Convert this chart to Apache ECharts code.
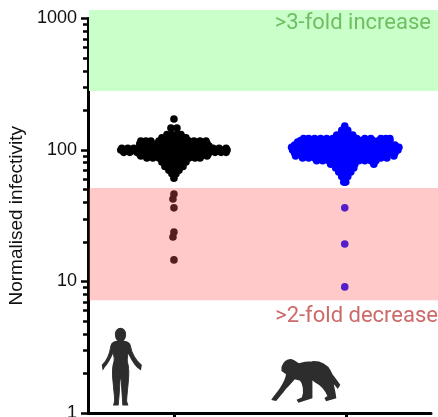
<!DOCTYPE html>
<html><head><meta charset="utf-8">
<script src="https://cdn.jsdelivr.net/npm/echarts@6/dist/echarts.min.js"></script>
<style>html,body{margin:0;padding:0;background:#fff}#c{width:438px;height:417px}</style>
</head><body><div id="c"></div>
<script>
var categoryPositions = [86, 257];
var swarmCenters = [85.7, 256];
var yTicks = [1, 10, 100, 1000];
var yMinorTicks = [2,3,4,5,6,7,8,9,20,30,40,50,60,70,80,90,200,300,400,500,600,700,800,900];
var bandLows = [281, 7.2];
var bandHighs = [1160, 51.4];
var bandLabels = ['>3-fold increase', '>2-fold decrease'];

var humanValues = [172, 147, 131, 124, 117, 112, 107, 103, 100, 96, 93, 90, 87, 81, 75, 70, 66, 61, 46.3, 42.4, 36.3, 23.8, 21.8, 14.6];
var humanOffsets = [
  [0],
  [-3, 3],
  [-7, -2, 3, 7],
  [-12, -6, 0, 6, 12],
  [-33, -28, -23, -15, -9, -3, 3, 9, 15, 20, 26, 32],
  [-34, -28, -22, -16, -10, -4, 2, 8, 14, 20, 26, 33],
  [-34, -28, -22, -16, -10, -4, 2, 8, 14, 20, 26, 32, 35],
  [-52, -46, -40, -34, -28, -22, -16, -10, -4, 3, 9, 15, 21, 27, 33, 39, 45, 52],
  [-53, -47, -41, -35, -29, -23, -17, -11, -5, 0, 6, 12, 18, 24, 30, 36, 42, 48, 53],
  [-50, -44, -37, -31, -25, -19, -13, -7, -1, 5, 11, 17, 23, 29, 35, 41, 47, 52],
  [-34, -28, -22, -16, -10, -4, 2, 8, 14, 20, 26, 32, 34],
  [-33, -27, -21, -15, -9, -3, 3, 9, 15, 21, 27, 33],
  [-27, -21, -15, -9, -3, 3, 9, 15, 21, 26],
  [-12, -6, 0, 6, 12],
  [-9, -3, 3, 9],
  [-5, 0, 5],
  [-2, 2],
  [0],
  [0], [-1], [0], [0], [-1], [0]
];

var macaqueValues = [152, 141, 130, 122, 118, 115, 109, 105, 100, 95, 90, 87, 83, 78, 73, 68, 63, 57, 36.3, 19.3, 9.1];
var macaqueOffsets = [
  [0],
  [-3, 3],
  [-8, -2, 3, 8],
  [-41, -36, -30, -24, -18, -12, -6, 0, 6, 12, 20, 26, 36, 41, 45],
  [-44, -38, -32, -26, -20, -14, -8, -2, 4, 10, 16, 22, 28, 34, 40, 45],
  [-47, -41, -35, -29, -23, -17, -11, -5, 1, 7, 13, 19, 25, 31, 37, 43],
  [-50, -46, -40, -34, -28, -22, -16, -10, -4, 2, 8, 14, 20, 26, 32, 38, 44, 50],
  [-53, -50, -44, -38, -32, -26, -20, -14, -8, -2, 4, 10, 16, 22, 28, 34, 40, 46, 52, 54],
  [-52, -47, -41, -35, -29, -23, -17, -11, -5, 1, 7, 13, 19, 25, 31, 37, 43, 49, 53],
  [-50, -44, -38, -32, -26, -20, -14, -8, -2, 4, 10, 16, 22, 28, 34, 40, 46, 50],
  [-49, -42, -36, -30, -24, -18, -12, -6, 0, 6, 12, 18, 24, 30, 36, 42, 49],
  [-42, -36, -30, -24, -18, -12, -6, 0, 6, 12, 18, 24, 30, 36, 42],
  [-28, -22, -16, -10, -4, 2, 8, 14, 20, 26, 31],
  [-14, -8, -2, 4, 10, 29],
  [-9, -3, 3, 9],
  [-6, 0, 6],
  [-3, 3],
  [-1, 1],
  [0], [0], [0]
];

function toPoints(center, values, offsets) {
  var pts = [];
  values.forEach(function (v, i) {
    offsets[i].forEach(function (o) { pts.push([center + o, v]); });
  });
  return pts;
}

var humanPath = 'path://M76 18 C86 18 92 26 92 35 C92 44 88 50 84 53 L85 57 C95 59 104 60 107 72 C110 95 125 118 140 130 L138 142 L128 135 C115 122 106 105 100 90 C98 102 96 108 97 118 C102 135 103 155 100 180 C98 205 95 225 95 240 L98 250 L83 250 C81 225 80 200 78 170 L75 170 C73 200 72 225 69 250 L55 250 L58 240 C58 225 55 205 53 180 C50 155 50 135 56 118 C58 108 56 102 53 90 C47 105 38 122 26 135 L22 142 L20 130 C33 118 43 95 46 72 C49 60 58 59 67 57 L68 53 C64 50 60 44 60 35 C60 26 66 18 76 18 Z';
var monkeyPath = 'path://M50 50 C55 35 65 28 75 28 C85 30 92 38 98 42 C110 38 125 35 140 35 C165 33 185 45 193 62 C197 72 200 78 205 82 L222 105 L218 112 L200 90 C202 105 207 120 210 145 L185 152 L182 146 L191 140 C185 125 170 105 150 95 L137 85 L137 145 L100 157 L97 152 L112 145 C120 125 115 100 105 90 L85 85 C75 100 60 110 50 125 L28 152 L20 150 C30 135 40 125 47 113 C55 100 62 88 64 72 L50 62 Z';

var chart = echarts.init(document.getElementById('c'), null, { renderer: 'canvas' });
chart.setOption({
  animation: false,
  backgroundColor: '#fff',
  grid: { left: 88, right: 7, top: 18.5, bottom: 4, containLabel: false, outerBoundsMode: 'none' },
  xAxis: {
    type: 'value', min: 0, max: 342,
    splitLine: { show: false },
    axisLine: { show: true, lineStyle: { color: '#000', width: 3 } },
    axisTick: { show: true, customValues: categoryPositions, length: 5, lineStyle: { color: '#000', width: 3 } },
    axisLabel: { show: false }
  },
  yAxis: [{
    type: 'log', logBase: 10, min: 1, max: 1000,
    name: 'Normalised infectivity', nameLocation: 'middle', nameGap: 60, nameRotate: 90,
    nameTextStyle: { fontFamily: 'Liberation Sans', fontSize: 19, color: '#111' },
    splitLine: { show: false }, minorTick: { show: false },
    axisLine: { show: true, onZero: false, lineStyle: { color: '#000', width: 3 } },
    axisTick: { show: true, customValues: yTicks, length: 7, lineStyle: { color: '#000', width: 2.5 } },
    axisLabel: { customValues: yTicks, formatter: function (v) { return String(v); },
                 fontFamily: 'Liberation Sans', fontSize: 18, color: '#111', margin: 11,
                 showMinLabel: true, showMaxLabel: true }
  }, {
    type: 'log', logBase: 10, min: 1, max: 1000, position: 'left',
    splitLine: { show: false },
    axisLine: { show: false },
    axisTick: { show: true, customValues: yMinorTicks, length: 5, lineStyle: { color: '#000', width: 2.5 } },
    axisLabel: { show: false }
  }],
  series: [{
    type: 'scatter', name: 'Human', symbolSize: 7.6, z: 3,
    itemStyle: { color: '#000', opacity: 1 },
    data: toPoints(swarmCenters[0], humanValues, humanOffsets)
  }, {
    type: 'scatter', name: 'Macaque', symbolSize: 7.6, z: 3,
    itemStyle: { color: '#0000ff', opacity: 1 },
    data: toPoints(swarmCenters[1], macaqueValues, macaqueOffsets)
  }, {
    type: 'custom', name: 'Green band', z: 2, silent: true, clip: false,
    encode: { x: [0, 1], y: [2, 3] },
    data: [[1, 349, bandLows[0], bandHighs[0]]],
    renderItem: function (p, api) {
      var a = api.coord([api.value(0), api.value(3)]), b = api.coord([api.value(1), api.value(2)]);
      return { type: 'rect', shape: { x: a[0], y: a[1], width: b[0] - a[0], height: b[1] - a[1] }, style: { fill: '#c9ffc9' } };
    }
  }, {
    type: 'custom', name: 'Pink band', z: 5, silent: true, clip: false,
    encode: { x: [0, 1], y: [2, 3] },
    data: [[1, 349, bandLows[1], bandHighs[1]]],
    renderItem: function (p, api) {
      var a = api.coord([api.value(0), api.value(3)]), b = api.coord([api.value(1), api.value(2)]);
      return { type: 'rect', shape: { x: a[0], y: a[1], width: b[0] - a[0], height: b[1] - a[1] }, style: { fill: 'rgba(255,91,91,0.33)' } };
    }
  }, {
    type: 'scatter', name: 'Human icon', symbol: humanPath, symbolSize: [39, 76], z: 6, silent: true,
    itemStyle: { color: '#2d2d2d', opacity: 1, borderColor: '#2d2d2d', borderWidth: 1.2 }, data: [[33.7, 2.25]]
  }, {
    type: 'scatter', name: 'Macaque icon', symbol: monkeyPath, symbolSize: [66, 42], z: 6, silent: true,
    itemStyle: { color: '#2d2d2d', opacity: 1, borderColor: '#2d2d2d', borderWidth: 2 }, data: [[217.3, 1.76]]
  }],
  graphic: [
    { type: 'text', right: 7, top: 12.5, z: 10, style: { text: bandLabels[0], font: '22px Roboto', fill: '#6fbf62' } },
    { type: 'text', right: 0, top: 305.5, z: 10, style: { text: bandLabels[1], font: '22px Roboto', fill: '#cc6a6a' } }
  ]
});
</script></body></html>
